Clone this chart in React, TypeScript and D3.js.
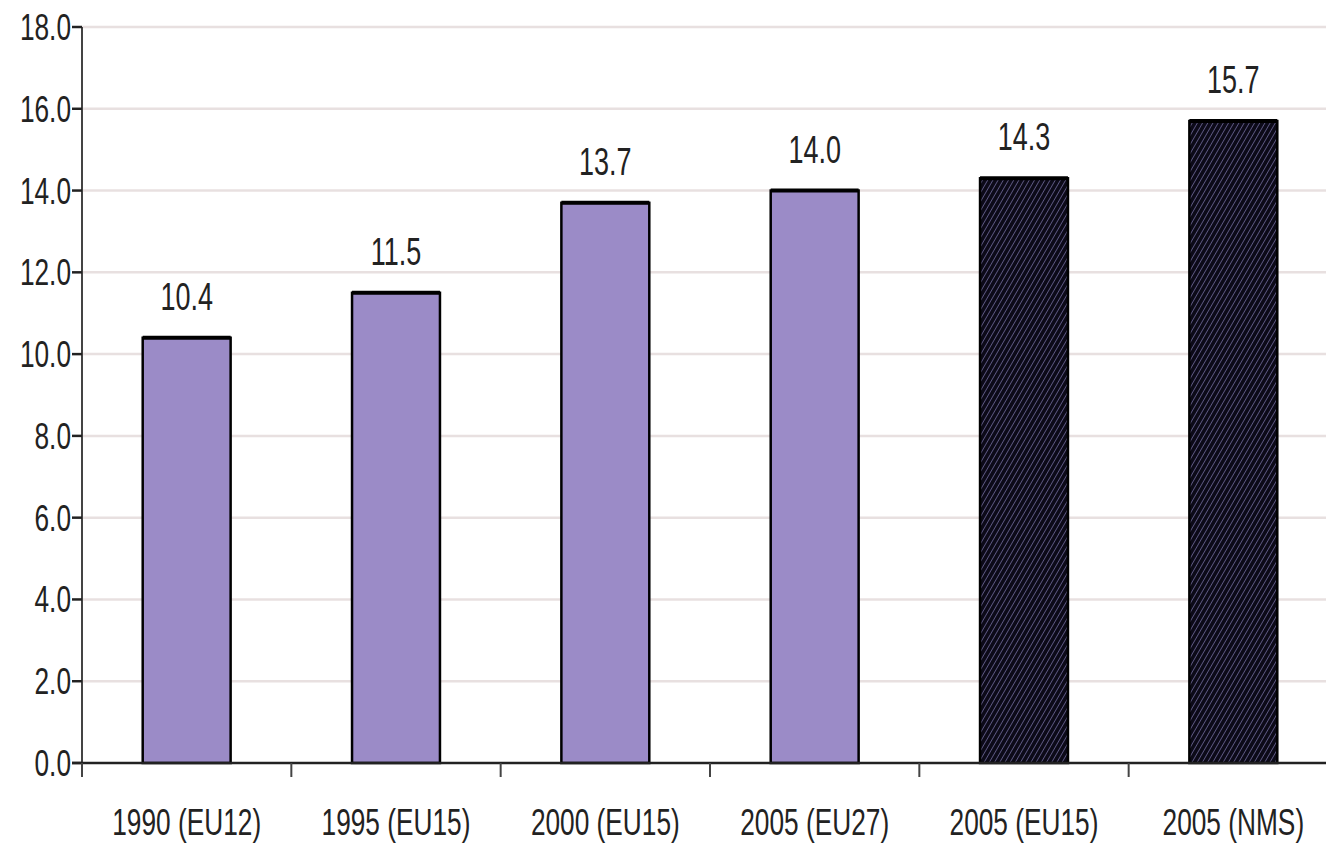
import * as d3 from "d3";

const categories = [
  "1990 (EU12)",
  "1995 (EU15)",
  "2000 (EU15)",
  "2005 (EU27)",
  "2005 (EU15)",
  "2005 (NMS)",
];
const values = [10.4, 11.5, 13.7, 14.0, 14.3, 15.7];
const hatched = [false, false, false, false, true, true];
const yTicks = [0, 2, 4, 6, 8, 10, 12, 14, 16, 18];

const W = 1326;
const H = 843;
const margin = { top: 27, left: 82, bottom: 80 };
const plotRight = 1338;
const FONT = "'Liberation Sans', Arial, sans-serif";
const SQ = 0.71; // labels in the reference are horizontally squeezed

export default function App() {
  const x = d3
    .scaleBand<string>()
    .domain(categories)
    .range([margin.left, plotRight])
    .padding(0);
  const y = d3
    .scaleLinear()
    .domain([0, 18])
    .range([H - margin.bottom, margin.top]);
  const barW = x.bandwidth() * 0.42;
  const y0 = y(0);

  return (
    <svg
      width={W}
      height={H}
      style={{ position: "absolute", left: 0, top: 0, background: "#fff" }}
    >
      <defs>
        <pattern
          id="hatch"
          patternUnits="userSpaceOnUse"
          width={4.5}
          height={4.5}
          patternTransform="rotate(30)"
        >
          <rect width={4.5} height={4.5} fill="#0c0a18" />
          <line x1={0} y1={0} x2={0} y2={4.5} stroke="#7c76ac" strokeWidth={1.3} />
        </pattern>
      </defs>

      {/* gridlines */}
      {yTicks
        .filter((t) => t > 0)
        .map((t) => (
          <line
            key={`g${t}`}
            x1={margin.left}
            x2={W}
            y1={y(t)}
            y2={y(t)}
            stroke="#e8e0e0"
            strokeWidth={2.5}
          />
        ))}

      {/* bars */}
      {categories.map((c, i) => {
        const bx = (x(c) as number) + (x.bandwidth() - barW) / 2;
        const by = y(values[i]);
        return (
          <g key={c}>
            <rect
              x={bx}
              y={by}
              width={barW}
              height={y0 - by}
              fill={hatched[i] ? "url(#hatch)" : "#9b8bc7"}
              stroke="#000"
              strokeWidth={2.5}
            />
            <line x1={bx} x2={bx + barW} y1={by} y2={by} stroke="#000" strokeWidth={4} />
            <text
              transform={`translate(${bx + barW / 2},${by - 28}) scale(${SQ},1)`}
              textAnchor="middle"
              fontFamily={FONT}
              fontSize={38}
              fill="#222"
            >
              {values[i].toFixed(1)}
            </text>
          </g>
        );
      })}

      {/* y axis */}
      <line x1={margin.left} x2={margin.left} y1={margin.top} y2={y0 + 14} stroke="#444" strokeWidth={2} />
      {yTicks.map((t) => (
        <g key={`y${t}`}>
          <line x1={margin.left - 10} x2={margin.left} y1={y(t)} y2={y(t)} stroke="#222" strokeWidth={2.5} />
          <text
            transform={`translate(${margin.left - 11},${y(t) + 13}) scale(${SQ},1)`}
            textAnchor="end"
            fontFamily={FONT}
            fontSize={37}
            fill="#222"
          >
            {t.toFixed(1)}
          </text>
        </g>
      ))}

      {/* x axis */}
      <line x1={margin.left - 10} x2={W} y1={y0} y2={y0} stroke="#222" strokeWidth={2.5} />
      {categories.map((c) => (
        <g key={`x${c}`}>
          <line
            x1={x(c) as number}
            x2={x(c) as number}
            y1={y0}
            y2={y0 + 14}
            stroke="#444"
            strokeWidth={2}
          />
          <text
            transform={`translate(${(x(c) as number) + x.bandwidth() / 2},${y0 + 72}) scale(${SQ},1)`}
            textAnchor="middle"
            fontFamily={FONT}
            fontSize={37}
            fill="#222"
          >
            {c}
          </text>
        </g>
      ))}
    </svg>
  );
}
